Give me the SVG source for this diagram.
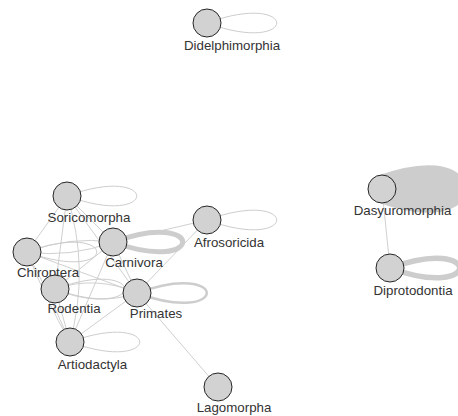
<svg xmlns="http://www.w3.org/2000/svg" width="458" height="416" viewBox="0 0 458 416">
<style>
.e{fill:none;stroke:#d0d0d0;stroke-width:1}
.lp{fill:none;stroke:#cdcdcd}
.n circle{fill:#d2d2d2;stroke:#262626;stroke-width:1}
.n text{font-family:"Liberation Sans",Arial,sans-serif;font-size:13.3px;fill:#333;text-anchor:middle}
</style>
<rect width="458" height="416" fill="#fff"/>
<g id="connectors">
<line class="e" x1="67" y1="196" x2="27" y2="252"/>
<line class="e" x1="67" y1="196" x2="113" y2="242"/>
<line class="e" x1="67" y1="196" x2="55" y2="289"/>
<line class="e" x1="67" y1="196" x2="137" y2="293"/>
<path class="e" d="M27 252 Q70 236 113 242"/>
<path class="e" d="M27 252 Q70 258 113 242"/>
<line class="e" x1="27" y1="252" x2="137" y2="293"/>
<path class="e" d="M27 252 Q46 300 70 342"/>
<path class="e" d="M27 252 Q51 296 70 342"/>
<line class="e" x1="55" y1="289" x2="70" y2="342"/>
<line class="e" x1="55" y1="289" x2="113" y2="242"/>
<path class="e" d="M55 289 Q96 275 137 293"/>
<path class="e" d="M55 289 Q96 307 137 293"/>
<line class="e" x1="113" y1="242" x2="137" y2="293"/>
<line class="e" x1="113" y1="242" x2="70" y2="342"/>
<path class="e" d="M70 342 Q90 268 67 196"/>
<line class="e" x1="113" y1="242" x2="207" y2="220"/>
<line class="e" x1="137" y1="293" x2="207" y2="220"/>
<line class="e" x1="137" y1="293" x2="70" y2="342"/>
<line class="e" x1="137" y1="293" x2="218" y2="387"/>
<line class="e" x1="382" y1="189" x2="390" y2="268"/>
<path class="lp" stroke-width="1" d="M207 23 C300 -11 300 57 207 23"/>
<path class="lp" stroke-width="1" d="M67 196 C160 162 160 230 67 196"/>
<path class="lp" stroke-width="1" d="M27 252 C120 218 120 286 27 252"/>
<path class="lp" stroke-width="5" d="M113 242 C206 208 206 276 113 242"/>
<path class="lp" stroke-width="1" d="M207 220 C300 186 300 254 207 220"/>
<path class="lp" stroke-width="1" d="M55 289 C148 255 148 323 55 289"/>
<path class="lp" stroke-width="2.5" d="M137 293 C230 259 230 327 137 293"/>
<path class="lp" stroke-width="1" d="M70 342 C163 308 163 376 70 342"/>
<path class="lp" stroke-width="28" d="M382 189 C475 155 475 223 382 189"/>
<path class="lp" stroke-width="5.5" d="M390 268 C483 234 483 302 390 268"/>
</g>
<g id="Didelphimorphia" class="n"><circle cx="207" cy="23" r="14"/><text x="232" y="49.5">Didelphimorphia</text></g>
<g id="Soricomorpha" class="n"><circle cx="67" cy="196" r="14"/><text x="89" y="221.5">Soricomorpha</text></g>
<g id="Chiroptera" class="n"><circle cx="27" cy="252" r="14"/><text x="48" y="277">Chiroptera</text></g>
<g id="Carnivora" class="n"><circle cx="113" cy="242" r="14"/><text x="134" y="267">Carnivora</text></g>
<g id="Afrosoricida" class="n"><circle cx="207" cy="220" r="14"/><text x="229" y="247">Afrosoricida</text></g>
<g id="Rodentia" class="n"><circle cx="55" cy="289" r="14"/><text x="74" y="313">Rodentia</text></g>
<g id="Primates" class="n"><circle cx="137" cy="293" r="14"/><text x="156" y="318">Primates</text></g>
<g id="Artiodactyla" class="n"><circle cx="70" cy="342" r="14"/><text x="92.5" y="368.5">Artiodactyla</text></g>
<g id="Lagomorpha" class="n"><circle cx="218" cy="387" r="14"/><text x="234" y="412">Lagomorpha</text></g>
<g id="Dasyuromorphia" class="n"><circle cx="382" cy="189" r="14"/><text x="402.5" y="215">Dasyuromorphia</text></g>
<g id="Diprotodontia" class="n"><circle cx="390" cy="268" r="14"/><text x="413" y="295">Diprotodontia</text></g>
</svg>
